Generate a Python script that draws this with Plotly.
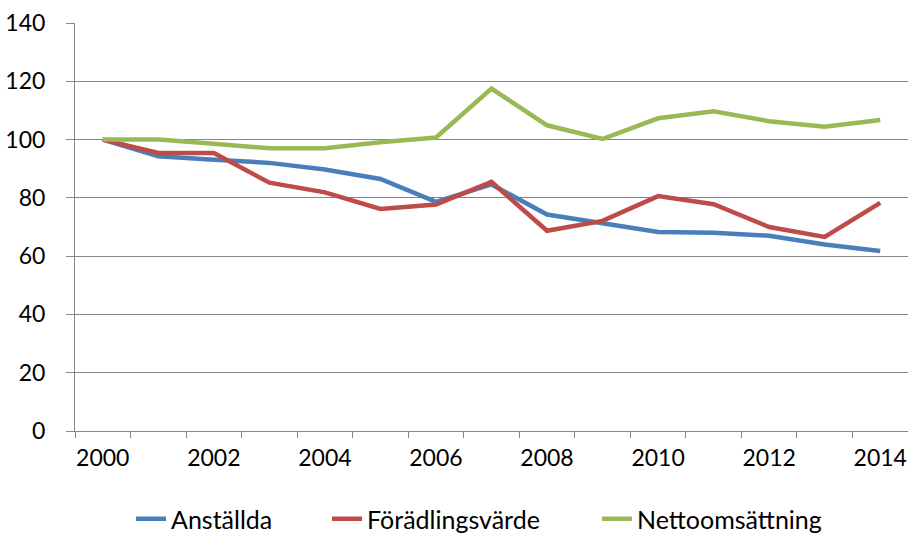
import plotly.graph_objects as go

years = list(range(2000, 2015))
anstallda = [100, 94.3, 93.1, 92.0, 89.7, 86.5, 78.6, 84.6, 74.3, 71.2, 68.3, 68.0, 67.0, 64.0, 61.8]
foradling = [100, 95.4, 95.4, 85.2, 81.9, 76.2, 77.7, 85.5, 68.7, 72.1, 80.6, 77.8, 70.0, 66.6, 78.3]
netto = [100, 100, 98.6, 97.0, 97.0, 99.1, 100.7, 117.5, 104.9, 100.2, 107.3, 109.7, 106.3, 104.4, 106.7]
names = ["Anställda", "Förädlingsvärde", "Nettoomsättning"]
colors = ["#4A7EBB", "#BE4B48", "#98B954"]
x_labels = [2000, 2002, 2004, 2006, 2008, 2010, 2012, 2014]
y_ticks = [0, 20, 40, 60, 80, 100, 120, 140]

W, H = 908, 533
legend_ids = ["legend", "legend2", "legend3"]
legend_text_starts = [172, 368, 638]  # pixel x where each legend label begins

fig = go.Figure()
for name, vals, col, lid in zip(names, [anstallda, foradling, netto], colors, legend_ids):
    fig.add_trace(go.Scatter(x=years, y=vals, mode="lines", name=name, legend=lid,
                             line=dict(color=col, width=4.5)))

font = dict(family="Lato, Calibri, sans-serif", size=23, color="#000000")
legend_font = dict(family="Lato, Calibri, sans-serif", size=25, color="#000000")

legend_layouts = {}
for lid, ts in zip(legend_ids, legend_text_starts):
    legend_layouts[lid] = dict(orientation="h", xref="container", yref="container",
                               x=(ts - 41) / W, xanchor="left", y=14 / H, yanchor="middle",
                               font=legend_font, bgcolor="rgba(0,0,0,0)")

fig.update_layout(
    width=W, height=H,
    margin=dict(l=75, r=0, t=23, b=102),
    paper_bgcolor="white", plot_bgcolor="white",
    font=font,
    showlegend=True,
    **legend_layouts,
    xaxis=dict(range=[1999.5, 2014.5], tickvals=x_labels, ticktext=[str(v) for v in x_labels],
               showgrid=False, zeroline=False, showline=True, linecolor="#868686", linewidth=1,
               ticks="", ticklabelstandoff=6, automargin=False,
               minor=dict(tick0=1999.5, dtick=1, ticks="outside", ticklen=6, tickcolor="#868686",
                          showgrid=False)),
    yaxis=dict(range=[0, 140], tickvals=y_ticks, showgrid=True, gridcolor="#868686", gridwidth=1,
               zeroline=False, showline=True, linecolor="#868686", linewidth=1, automargin=False,
               ticks="outside", ticklen=8, tickcolor="#868686", ticklabelstandoff=16),
)
fig.write_html("out.html", config={"displayModeBar": False},
               post_script="document.body.style.margin='0';")
